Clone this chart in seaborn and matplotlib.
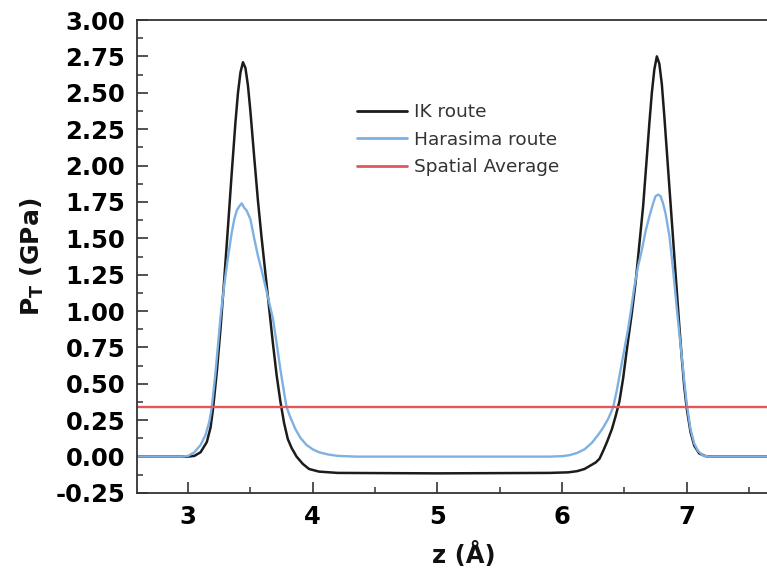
import matplotlib
matplotlib.use("Agg")
import matplotlib.pyplot as plt
from matplotlib.ticker import MultipleLocator
import seaborn as sns
import pandas as pd

# ---- data ----
ik_z = [2.59, 3.00, 3.05, 3.10, 3.15, 3.18, 3.20, 3.23, 3.26, 3.29, 3.32, 3.35, 3.38,
        3.40, 3.42, 3.44, 3.46, 3.48, 3.50, 3.53, 3.56, 3.59, 3.62, 3.65, 3.68, 3.71,
        3.74, 3.77, 3.80, 3.83, 3.87, 3.92, 3.97, 4.05, 4.20, 5.00, 5.90, 6.05, 6.12,
        6.18, 6.23, 6.27, 6.30, 6.33, 6.36, 6.40, 6.43, 6.46, 6.49, 6.52, 6.56, 6.59,
        6.62, 6.65, 6.68, 6.70, 6.72, 6.74, 6.76, 6.78, 6.80, 6.82, 6.84, 6.86, 6.88,
        6.90, 6.92, 6.94, 6.96, 6.98, 7.00, 7.03, 7.06, 7.10, 7.15, 7.20, 7.74]
ik_p = [0.000, 0.000, 0.005, 0.030, 0.100, 0.200, 0.330, 0.580, 0.880, 1.220, 1.580,
        1.950, 2.300, 2.500, 2.640, 2.710, 2.670, 2.550, 2.370, 2.060, 1.760, 1.500,
        1.260, 1.020, 0.780, 0.560, 0.380, 0.230, 0.120, 0.060, 0.000, -0.050, -0.085,
        -0.103, -0.112, -0.115, -0.112, -0.108, -0.100, -0.085, -0.060, -0.040, -0.015,
        0.040, 0.100, 0.190, 0.280, 0.380, 0.540, 0.740, 0.990, 1.200, 1.460, 1.720,
        2.060, 2.290, 2.500, 2.660, 2.750, 2.700, 2.560, 2.340, 2.100, 1.860, 1.620,
        1.380, 1.140, 0.900, 0.680, 0.480, 0.330, 0.170, 0.075, 0.022, 0.003, 0.000,
        0.000]

har_z = [2.59, 2.95, 3.00, 3.05, 3.10, 3.14, 3.17, 3.19, 3.22, 3.26, 3.29, 3.32, 3.35,
         3.37, 3.39, 3.41, 3.43, 3.45, 3.47, 3.50, 3.53, 3.56, 3.59, 3.62, 3.65, 3.68,
         3.71, 3.74, 3.77, 3.79, 3.82, 3.86, 3.90, 3.95, 4.00, 4.05, 4.12, 4.20, 4.35,
         5.90, 6.00, 6.06, 6.12, 6.18, 6.24, 6.29, 6.33, 6.37, 6.41, 6.44, 6.47, 6.50,
         6.53, 6.55, 6.58, 6.61, 6.64, 6.67, 6.70, 6.73, 6.75, 6.77, 6.79, 6.81, 6.83,
         6.86, 6.88, 6.90, 6.92, 6.94, 6.96, 6.98, 7.00, 7.03, 7.06, 7.09, 7.13, 7.18,
         7.74]
har_p = [0.000, 0.000, 0.005, 0.030, 0.080, 0.150, 0.240, 0.340, 0.580, 0.960, 1.180,
         1.370, 1.540, 1.630, 1.690, 1.720, 1.740, 1.710, 1.690, 1.630, 1.500, 1.380,
         1.280, 1.170, 1.060, 0.950, 0.780, 0.600, 0.440, 0.340, 0.270, 0.190, 0.130,
         0.080, 0.050, 0.030, 0.015, 0.005, 0.000, 0.000, 0.003, 0.010, 0.025, 0.050,
         0.096, 0.150, 0.200, 0.260, 0.340, 0.460, 0.600, 0.740, 0.880, 0.990, 1.170,
         1.310, 1.420, 1.550, 1.650, 1.740, 1.790, 1.800, 1.790, 1.740, 1.670, 1.520,
         1.370, 1.200, 1.020, 0.850, 0.690, 0.520, 0.360, 0.190, 0.090, 0.040, 0.008,
         0.000, 0.000]

spatial_average = 0.34

series_labels = ["IK route", "Harasima route", "Spatial Average"]
x_ticks = [3, 4, 5, 6, 7]
y_ticks = [-0.25, 0.00, 0.25, 0.50, 0.75, 1.00, 1.25, 1.50, 1.75, 2.00, 2.25, 2.50, 2.75, 3.00]

# ---- styling ----
sns.set_theme(style="ticks")
plt.rcParams["font.family"] = ["DejaVu Sans"]
plt.rcParams["mathtext.fontset"] = "dejavusans"

fig = plt.figure(figsize=(7.67, 5.74), dpi=100)
ax = fig.add_axes([137 / 767, 81 / 574, (779 - 137) / 767, 473 / 574])

df_ik = pd.DataFrame({"z": ik_z, "P": ik_p})
df_har = pd.DataFrame({"z": har_z, "P": har_p})

sns.lineplot(data=df_ik, x="z", y="P", ax=ax, color="#1c1c1c", lw=1.8,
             label=series_labels[0], sort=False)
sns.lineplot(data=df_har, x="z", y="P", ax=ax, color="#7eb0e2", lw=1.7,
             label=series_labels[1], sort=False)
ax.axhline(spatial_average, color="#e0585c", lw=1.7, label=series_labels[2])

ax.set_xlim(2.59, 7.74)
ax.set_ylim(-0.25, 3.00)
ax.set_xticks(x_ticks)
ax.set_yticks(y_ticks)
ax.set_yticklabels([f"{v:.2f}" for v in y_ticks])
ax.xaxis.set_minor_locator(MultipleLocator(0.5))
ax.yaxis.set_minor_locator(MultipleLocator(0.125))

ax.tick_params(axis="both", which="major", direction="in", length=8, width=1.2,
               color="#333333", labelsize=17.5, labelcolor="black")
ax.tick_params(axis="both", which="minor", direction="in", length=4.5, width=1.1,
               color="#333333")
ax.tick_params(axis="y", which="major", pad=8.5)
ax.tick_params(axis="x", which="major", pad=9)
for lab in ax.get_xticklabels() + ax.get_yticklabels():
    lab.set_fontweight("bold")

for side in ["left", "bottom", "top"]:
    ax.spines[side].set_linewidth(1.3)
    ax.spines[side].set_color("#333333")
ax.spines["right"].set_visible(False)

ax.set_xlabel("z (Å)", fontsize=17.5, fontweight="bold", color="#111111")
ax.set_ylabel(r"$\mathbf{P}_{\mathbf{T}}$ (GPa)", fontsize=18, fontweight="bold",
              color="#111111")
ax.xaxis.set_label_coords(0.5 + 6 / 642, -0.104)
ax.yaxis.set_label_coords(-0.142, 0.5)

leg = ax.legend(loc="upper left", bbox_to_anchor=(357 / 767, 1 - 103 / 574),
                bbox_transform=fig.transFigure, frameon=False, fontsize=13.3,
                handlelength=2.7, handletextpad=0.38, labelspacing=0.52,
                borderpad=0, borderaxespad=0)
for line in leg.get_lines():
    line.set_linewidth(2.0)
for t in leg.get_texts():
    t.set_color("#333333")

fig.savefig("out.png", dpi=100)
